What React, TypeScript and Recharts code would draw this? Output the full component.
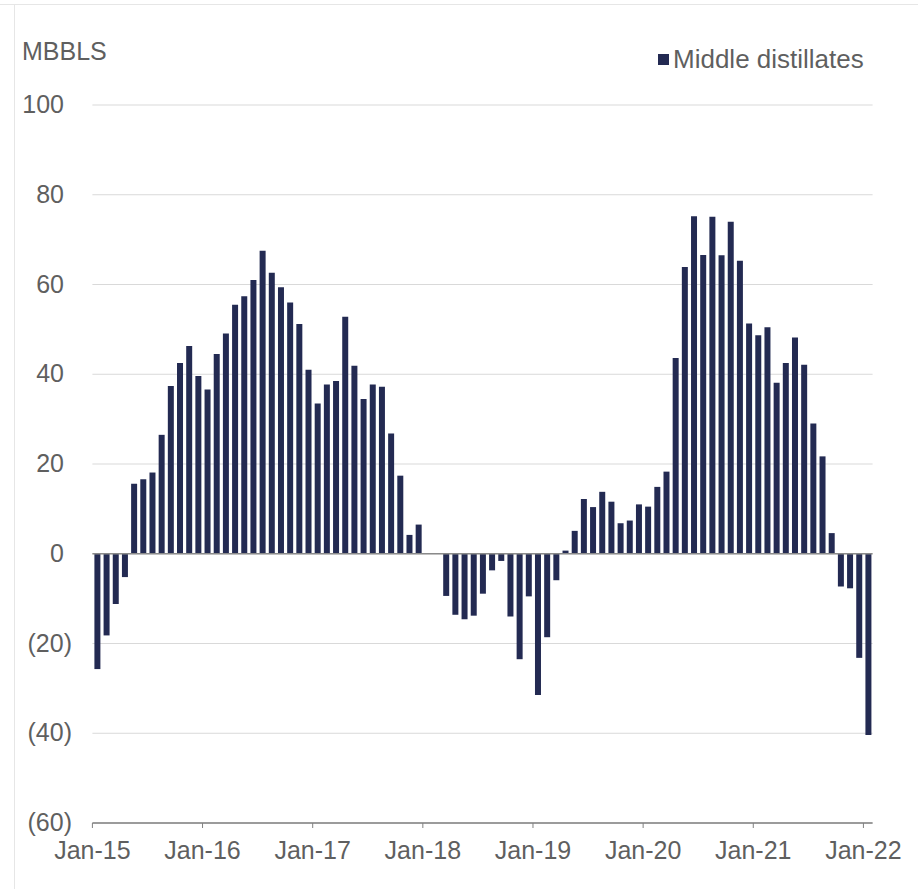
import React from 'react';
import { BarChart, Bar, XAxis, YAxis, CartesianGrid, ReferenceLine, Legend } from 'recharts';

// months / years for the category axis
const MONTHS = ['Jan', 'Feb', 'Mar', 'Apr', 'May', 'Jun', 'Jul', 'Aug', 'Sep', 'Oct', 'Nov', 'Dec'];
const YEARS = ['15', '16', '17', '18', '19', '20', '21', '22'];

// Middle distillates, MBBLS
const VALUES_2015 = [-25.7, -18.2, -11.2, -5.2, 15.6, 16.6, 18.1, 26.5, 37.4, 42.5, 46.3, 39.6];
const VALUES_2016 = [36.6, 44.5, 49.1, 55.5, 57.4, 61.0, 67.5, 62.6, 59.4, 56.0, 51.2, 41.0];
const VALUES_2017 = [33.5, 37.7, 38.5, 52.8, 41.9, 34.5, 37.7, 37.2, 26.8, 17.4, 4.2, 6.5];
const VALUES_2018 = [0, 0, -9.4, -13.6, -14.6, -13.8, -8.9, -3.7, -1.6, -14.0, -23.5, -9.5];
const VALUES_2019 = [-31.5, -18.6, -5.9, 0.7, 5.1, 12.2, 10.4, 13.8, 11.6, 6.8, 7.4, 11.0];
const VALUES_2020 = [10.5, 14.9, 18.3, 43.6, 63.9, 75.2, 66.6, 75.1, 66.5, 74.0, 65.3, 51.3];
const VALUES_2021 = [48.7, 50.5, 38.1, 42.5, 48.2, 42.1, 29.0, 21.7, 4.6, -7.3, -7.7, -23.2];
const VALUES_2022 = [-40.4];

const Y_TICKS = [-60, -40, -20, 0, 20, 40, 60, 80, 100];

const SERIES = [
    ...VALUES_2015, ...VALUES_2016, ...VALUES_2017, ...VALUES_2018,
    ...VALUES_2019, ...VALUES_2020, ...VALUES_2021, ...VALUES_2022,
];

const data = SERIES.map((v, i) => ({
    month: `${MONTHS[i % 12]}-${YEARS[Math.floor(i / 12)]}`,
    value: v,
}));

const W = 918;
const H = 889;
const M = { top: 105, right: 45.4, bottom: 16, left: 12.4 };
const Y_W = 80;
const X_H = 50;
const PLOT_LEFT = M.left + Y_W;
const PLOT_W = W - PLOT_LEFT - M.right;
const PLOT_BOTTOM = H - M.bottom - X_H;
const BAND = PLOT_W / data.length;

const FONT = '"Liberation Sans", Arial, sans-serif';
const TEXT = '#5f5f5f';
const NAVY = '#232a52';

const fmt = (v: number) => (v < 0 ? `(${Math.abs(v)})` : `${v}`);

// tick sits on the left edge of the January band, like the original date axis
const XTick = ({ x, payload }: any) => {
    const tx = x - BAND / 2;
    return (
        <g>
            <line x1={tx} x2={tx} y1={PLOT_BOTTOM} y2={PLOT_BOTTOM + 5} stroke="#808080" />
            <text x={tx} y={859} textAnchor="middle" fontSize={25} fill={TEXT} fontFamily={FONT}>
                {payload.value}
            </text>
        </g>
    );
};

// digits line up, the closing bracket hangs to the right
const YTick = ({ y, payload }: any) => (
    <text
        x={payload.value < 0 ? 72 : 64}
        y={y + 8}
        textAnchor="end"
        fontSize={25}
        fill={TEXT}
        fontFamily={FONT}
    >
        {fmt(payload.value)}
    </text>
);

const LegendBox = ({ payload }: any) => (
    <div style={{ display: 'flex', alignItems: 'center', fontFamily: FONT }}>
        {(payload || []).map((p: any) => (
            <div key={p.value} style={{ display: 'flex', alignItems: 'center' }}>
                <span style={{ width: 11, height: 11, background: p.color, marginRight: 4, display: 'inline-block' }} />
                <span style={{ fontSize: 26, lineHeight: '26px', color: TEXT, whiteSpace: 'nowrap' }}>{p.value}</span>
            </div>
        ))}
    </div>
);

export default function App() {
    return (
        <div style={{ position: 'absolute', left: 0, top: 0, width: W, height: H, background: '#fff' }}>
            {/* light frame from the source slide */}
            <div style={{ position: 'absolute', left: 0, top: 4, width: W, height: 1, background: '#e6e6e6' }} />
            <div style={{ position: 'absolute', left: 14, top: 4, width: 1, height: H, background: '#e6e6e6' }} />

            <div style={{ position: 'absolute', left: 0, top: 0 }}>
                <BarChart width={W} height={H} data={data} margin={M} barSize={6}>
                    <CartesianGrid vertical={false} stroke="#d9d9d9" />
                    <XAxis
                        dataKey="month"
                        interval={11}
                        height={X_H}
                        tickLine={false}
                        axisLine={{ stroke: '#808080', strokeWidth: 1.5 }}
                        tick={<XTick />}
                    />
                    <YAxis
                        width={Y_W}
                        domain={[-60, 100]}
                        ticks={Y_TICKS}
                        axisLine={false}
                        tickLine={false}
                        tick={<YTick />}
                        label={{
                            content: () => (
                                <text x={22} y={60} fontSize={25} fill={TEXT} fontFamily={FONT}>MBBLS</text>
                            ),
                        }}
                    />
                    <Legend
                        layout="horizontal"
                        align="center"
                        verticalAlign="middle"
                        wrapperStyle={{ top: 46, left: 658, width: 'auto' }}
                        content={<LegendBox />}
                    />
                    <Bar dataKey="value" name="Middle distillates" fill={NAVY} isAnimationActive={false} />
                    <ReferenceLine y={0} stroke="#8a8a8a" strokeWidth={1.5} />
                </BarChart>
            </div>
        </div>
    );
}
